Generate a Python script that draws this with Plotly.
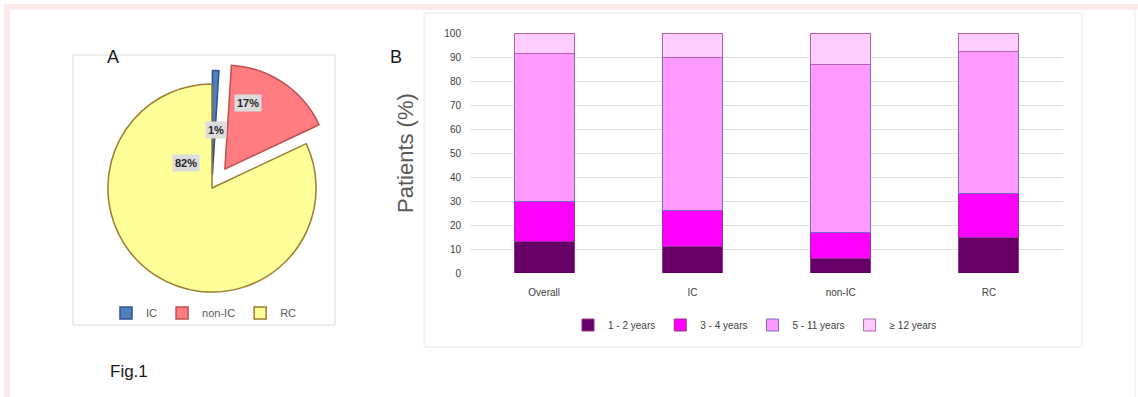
import plotly.graph_objects as go

W, H = 1138, 397

# Panel A: share of patients by group
pie_labels = ["IC", "non-IC", "RC"]
pie_values = [1, 17, 82]
pie_pull = [0.13, 0.22, 0]
pie_fill = ["#4f81bd", "#ff7c80", "#ffff99"]
pie_edge = ["#2f528f", "#c0504d", "#9c7a2e"]

# Panel B: age distribution per group (%)
groups = ["Overall", "IC", "non-IC", "RC"]
age_bands = ["1 - 2 years", "3 - 4 years", "5 - 11 years", "\u2265 12 years"]
age_values = [
    [13, 11, 6, 15],
    [17, 15, 11, 18],
    [61.5, 64, 70, 59.5],
    [8.5, 10, 13, 7.5],
]
band_fill = ["#660066", "#ff00ff", "#ff99ff", "#ffccff"]
band_edge = ["#993399", "#993399", "#7b6cc0", "#b061b0"]
y_ticks = list(range(0, 101, 10))

NARROW = "Liberation Sans Narrow, Arial Narrow, Liberation Sans, sans-serif"


def px(x):
    return x / W


def py(y):
    return 1 - y / H


fig = go.Figure()

fig.add_trace(go.Pie(
    labels=pie_labels,
    values=pie_values,
    pull=pie_pull,
    sort=False,
    direction="clockwise",
    rotation=0,
    textinfo="none",
    hoverinfo="label+percent",
    marker=dict(colors=pie_fill, line=dict(color=pie_edge, width=1.5)),
    domain=dict(x=[px(85), px(339)], y=[py(315), py(61)]),
    legend="legend2",
))

for band, vals, fc, ec in zip(age_bands, age_values, band_fill, band_edge):
    fig.add_trace(go.Bar(
        x=groups,
        y=vals,
        name=band,
        marker=dict(color=fc, line=dict(color=ec, width=1)),
        legend="legend",
    ))

# Percentage labels on the pie, boxed like data callouts
total = sum(pie_values)
label_pos = {"IC": (216, 130), "non-IC": (248, 103), "RC": (186, 163)}
annotations = []
for lab, val in zip(pie_labels, pie_values):
    x, y = label_pos[lab]
    annotations.append(dict(
        x=px(x), y=py(y), xref="paper", yref="paper", xanchor="center", yanchor="middle",
        text=f"<b>{round(100 * val / total)}%</b>", showarrow=False,
        font=dict(family="Liberation Sans, Arial, sans-serif", size=11, color="#262626"),
        bgcolor="#dcdcdc", borderpad=2,
    ))


def label(x, y, text, size, color="#1a1a1a", angle=0):
    return dict(x=px(x), y=py(y), xref="paper", yref="paper", xanchor="center",
                yanchor="middle", text=text, showarrow=False, textangle=angle,
                font=dict(family="Liberation Sans, Arial", size=size, color=color))


annotations += [
    label(113, 57, "A", 18),
    label(396, 57, "B", 18),
    label(129, 371, "Fig.1", 17),
    label(405, 153, "Patients (%)", 22, "#595959", -90),
]

shapes = [
    # pale pink page frame
    dict(type="rect", xref="paper", yref="paper", x0=px(4), x1=1, y0=py(10), y1=py(4),
         fillcolor="#fdeaea", line=dict(width=0), layer="below"),
    dict(type="rect", xref="paper", yref="paper", x0=px(4), x1=px(10), y0=0, y1=py(4),
         fillcolor="#fdeaea", line=dict(width=0), layer="below"),
    dict(type="line", xref="paper", yref="paper", x0=px(1135), x1=px(1135), y0=0, y1=py(10),
         line=dict(color="#fbeef0", width=1.5), layer="below"),
    # panel boxes
    dict(type="rect", xref="paper", yref="paper", x0=px(73), x1=px(335), y0=py(325), y1=py(55),
         line=dict(color="#d9d9d9", width=1), layer="below"),
    dict(type="rect", xref="paper", yref="paper", x0=px(424), x1=px(1082), y0=py(347), y1=py(13),
         line=dict(color="#e8e8e8", width=1), layer="below"),
]

fig.update_layout(
    width=W, height=H,
    margin=dict(l=0, r=0, t=0, b=0, pad=0, autoexpand=False),
    paper_bgcolor="white", plot_bgcolor="white",
    barmode="stack", bargap=0.595,
    xaxis=dict(domain=[px(470), px(1063)], showgrid=False, showline=False, ticks="",
               ticklabelstandoff=12, automargin=False,
               tickfont=dict(family=NARROW, size=10, color="#404040"), fixedrange=True),
    yaxis=dict(domain=[py(273), py(33)], range=[0, 100], tickvals=y_ticks,
               showgrid=True, gridcolor="#dedede", gridwidth=1, zeroline=False,
               showline=False, ticks="", ticklabelstandoff=8, automargin=False,
               tickfont=dict(family=NARROW, size=10, color="#404040"), fixedrange=True),
    legend=dict(orientation="h", x=px(755), xanchor="center", y=py(325), yanchor="middle",
                traceorder="normal", font=dict(family=NARROW, size=10, color="#404040"),
                itemwidth=30, bgcolor="rgba(0,0,0,0)"),
    legend2=dict(orientation="h", x=px(204), xanchor="center", y=py(313), yanchor="middle",
                 font=dict(family=NARROW, size=11, color="#595959"),
                 itemwidth=30, bgcolor="rgba(0,0,0,0)"),
    annotations=annotations,
    shapes=shapes,
    showlegend=True,
)

fig.write_html("out.html")
